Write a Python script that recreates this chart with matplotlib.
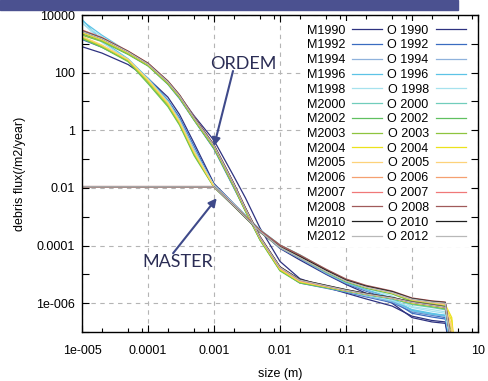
import numpy as np
import matplotlib
matplotlib.use("Agg")
import matplotlib.pyplot as plt
from matplotlib.patches import Rectangle
from matplotlib.ticker import LogLocator, NullFormatter, FixedLocator

# tamaños comunes (m)
size = [1e-5, 2e-5, 5e-5, 1e-4, 2e-4, 3e-4, 5e-4, 1e-3, 2e-3, 3e-3, 5e-3,
        1e-2, 2e-2, 5e-2, 0.1, 0.2, 0.5, 1, 2, 3.2, 4, 5]

years = ["1990", "1992", "1994", "1996", "1998", "2000", "2002", "2003",
         "2004", "2005", "2006", "2007", "2008", "2010", "2012"]
colors = ["#2e3280", "#3a6cc0", "#8fb2dc", "#5cc3e6", "#a6e2ee", "#70cdbb",
          "#60c060", "#8ec43e", "#ece21c", "#fdd27a", "#f5a070", "#f07878",
          "#a05a5a", "#202020", "#b8b8b8"]

# log10 del flujo, MASTER
m1990 = [2.90, 2.68, 2.28, 1.80, 1.15, 0.55, -0.45, -1.85, -2.55, -2.95, -3.50, -4.10, -4.50, -5.00, -5.35, -5.65, -6.00, -6.50, -6.65, -6.70, -8.0, -9.0]
m1992 = [3.15, 2.88, 2.42, 1.80, 1.05, 0.45, -0.55, -1.92, -2.60, -2.98, -3.50, -4.08, -4.45, -4.98, -5.32, -5.58, -5.90, -6.35, -6.48, -6.55, -7.8, -9.0]
m1994 = [3.20, 2.92, 2.44, 1.78, 1.00, 0.38, -0.65, -1.94, -2.60, -3.00, -3.52, -4.08, -4.44, -4.96, -5.30, -5.55, -5.85, -6.28, -6.40, -6.45, -7.7, -9.0]
m1996 = [3.85, 3.10, 2.48, 1.80, 1.02, 0.35, -0.70, -1.92, -2.58, -2.96, -3.46, -4.00, -4.36, -4.92, -5.28, -5.52, -5.82, -6.25, -6.38, -6.42, -7.6, -9.0]
m1998 = [3.75, 3.05, 2.45, 1.76, 0.98, 0.32, -0.72, -1.90, -2.56, -2.95, -3.45, -3.98, -4.34, -4.88, -5.24, -5.48, -5.75, -6.12, -6.22, -6.30, -7.5, -9.0]
m2000 = [3.22, 2.93, 2.43, 1.72, 0.92, 0.28, -0.78, -1.96, -2.60, -2.98, -3.46, -3.98, -4.32, -4.84, -5.18, -5.42, -5.64, -5.90, -6.00, -6.08, -7.4, -9.0]
m2002 = [3.18, 2.88, 2.38, 1.62, 0.82, 0.18, -0.88, -1.98, -2.64, -3.04, -3.54, -4.06, -4.42, -4.92, -5.26, -5.48, -5.68, -5.94, -6.04, -6.10, -7.4, -9.0]
m2003 = [3.20, 2.90, 2.40, 1.66, 0.86, 0.22, -0.84, -1.97, -2.62, -3.02, -3.52, -4.04, -4.40, -4.90, -5.24, -5.46, -5.66, -5.92, -6.02, -6.08, -7.0, -9.0]
m2004 = [3.24, 2.94, 2.44, 1.72, 0.92, 0.27, -0.78, -1.96, -2.62, -3.00, -3.50, -4.03, -4.38, -4.88, -5.22, -5.44, -5.64, -5.88, -5.98, -6.05, -6.5, -9.0]
m2005 = [3.26, 2.96, 2.46, 1.76, 0.96, 0.31, -0.74, -1.95, -2.61, -3.00, -3.50, -4.03, -4.38, -4.88, -5.22, -5.44, -5.64, -5.88, -5.98, -6.05, -6.8, -9.0]
m2006 = [-1.96, -1.96, -1.96, -1.96, -1.96, -1.96, -1.96, -1.96, -2.62, -3.02, -3.52, -4.05, -4.40, -4.88, -5.22, -5.43, -5.62, -5.86, -5.96, -6.02, -7.4, -9.0]
m2007 = [-1.96, -1.96, -1.96, -1.96, -1.96, -1.96, -1.96, -1.96, -2.60, -3.00, -3.48, -4.00, -4.35, -4.84, -5.18, -5.40, -5.60, -5.83, -5.93, -5.98, -7.5, -9.0]
m2008 = [-1.95, -1.95, -1.95, -1.95, -1.95, -1.95, -1.95, -1.95, -2.60, -2.99, -3.47, -3.98, -4.33, -4.82, -5.16, -5.38, -5.58, -5.82, -5.92, -5.96, -7.5, -9.0]
m2010 = [-1.96, -1.96, -1.96, -1.96, -1.96, -1.96, -1.96, -1.96, -2.63, -3.03, -3.53, -4.04, -4.38, -4.86, -5.20, -5.41, -5.60, -5.84, -5.94, -5.98, -7.5, -9.0]
m2012 = [-1.96, -1.96, -1.96, -1.96, -1.96, -1.96, -1.96, -1.96, -2.62, -3.02, -3.52, -4.06, -4.42, -4.90, -5.23, -5.44, -5.63, -5.86, -5.96, -6.00, -7.5, -9.0]

# log10 del flujo, ORDEM
o1990 = [3.35, 3.10, 2.65, 2.25, 1.65, 1.20, 0.50, -0.35, -1.60, -2.35, -3.40, -4.55, -5.15, -5.45, -5.65, -5.85, -6.10, -6.45, -6.60, -6.65, -7.8, -9.0]
o1992 = [3.40, 3.15, 2.68, 2.25, 1.60, 1.10, 0.35, -0.65, -2.00, -2.80, -3.80, -4.85, -5.30, -5.48, -5.62, -5.78, -5.98, -6.30, -6.42, -6.50, -7.7, -9.0]
o1994 = [3.42, 3.17, 2.70, 2.28, 1.63, 1.14, 0.38, -0.60, -1.95, -2.78, -3.78, -4.82, -5.28, -5.46, -5.60, -5.75, -5.95, -6.25, -6.38, -6.45, -7.6, -9.0]
o1996 = [3.80, 3.30, 2.72, 2.30, 1.66, 1.17, 0.40, -0.57, -1.90, -2.75, -3.75, -4.80, -5.25, -5.44, -5.58, -5.72, -5.92, -6.22, -6.35, -6.42, -7.6, -9.0]
o1998 = [3.70, 3.25, 2.71, 2.29, 1.65, 1.16, 0.40, -0.58, -1.92, -2.76, -3.76, -4.82, -5.26, -5.44, -5.58, -5.72, -5.90, -6.15, -6.28, -6.35, -7.5, -9.0]
o2000 = [3.38, 3.14, 2.68, 2.27, 1.64, 1.15, 0.38, -0.60, -1.93, -2.78, -3.78, -4.85, -5.28, -5.45, -5.58, -5.70, -5.85, -6.05, -6.15, -6.23, -7.4, -9.0]
o2002 = [3.30, 3.08, 2.63, 2.23, 1.60, 1.12, 0.35, -0.63, -1.97, -2.82, -3.82, -4.88, -5.30, -5.46, -5.58, -5.70, -5.84, -6.02, -6.12, -6.20, -7.3, -9.0]
o2003 = [3.32, 3.10, 2.65, 2.25, 1.62, 1.14, 0.37, -0.60, -1.95, -2.80, -3.80, -4.86, -5.28, -5.44, -5.57, -5.69, -5.83, -6.00, -6.10, -6.18, -7.0, -9.0]
o2004 = [3.38, 3.14, 2.69, 2.28, 1.66, 1.18, 0.41, -0.56, -1.90, -2.76, -3.76, -4.83, -5.26, -5.43, -5.56, -5.68, -5.82, -5.99, -6.08, -6.15, -6.6, -9.0]
o2005 = [3.42, 3.17, 2.71, 2.30, 1.68, 1.20, 0.43, -0.54, -1.88, -2.74, -3.74, -4.80, -5.24, -5.42, -5.56, -5.68, -5.82, -5.98, -6.08, -6.15, -6.9, -9.0]
o2006 = [3.45, 3.19, 2.73, 2.31, 1.69, 1.21, 0.44, -0.53, -1.87, -2.72, -3.72, -4.78, -5.22, -5.41, -5.55, -5.68, -5.82, -5.97, -6.07, -6.15, -7.3, -9.0]
o2007 = [3.48, 3.22, 2.75, 2.33, 1.71, 1.23, 0.46, -0.51, -1.85, -2.70, -3.70, -4.76, -5.20, -5.40, -5.55, -5.67, -5.81, -5.96, -6.06, -6.13, -7.5, -9.0]
o2008 = [3.47, 3.21, 2.74, 2.33, 1.71, 1.23, 0.46, -0.50, -1.84, -2.69, -3.69, -4.74, -5.19, -5.39, -5.54, -5.67, -5.81, -5.96, -6.06, -6.13, -7.5, -9.0]
o2010 = [3.44, 3.19, 2.73, 2.31, 1.69, 1.21, 0.44, -0.52, -1.86, -2.71, -3.71, -4.74, -5.18, -5.38, -5.53, -5.66, -5.80, -5.96, -6.06, -6.13, -7.5, -9.0]
o2012 = [3.43, 3.18, 2.72, 2.30, 1.68, 1.20, 0.43, -0.53, -1.87, -2.72, -3.72, -4.76, -5.20, -5.40, -5.55, -5.68, -5.82, -5.97, -6.07, -6.14, -7.5, -9.0]

master = [m1990, m1992, m1994, m1996, m1998, m2000, m2002, m2003,
          m2004, m2005, m2006, m2007, m2008, m2010, m2012]
ordem = [o1990, o1992, o1994, o1996, o1998, o2000, o2002, o2003,
         o2004, o2005, o2006, o2007, o2008, o2010, o2012]

x_ticks = [1e-5, 1e-4, 1e-3, 1e-2, 1e-1, 1, 10]
x_labels = ["1e-005", "0.0001", "0.001", "0.01", "0.1", "1", "10"]
y_ticks = [1e-6, 1e-4, 1e-2, 1, 100, 10000]
y_labels = ["1e-006", "0.0001", "0.01", "1", "100", "10000"]

plt.rcParams["font.family"] = ["Liberation Sans", "DejaVu Sans"]
plt.rcParams["font.size"] = 9

fig = plt.figure(figsize=(4.89, 3.81), dpi=100)
ax = fig.add_axes([82 / 489, 1 - 332 / 381, 396 / 489, 317 / 381])

# barra de cabecera
fig.patches.append(Rectangle((0, 1 - 10 / 381), 458 / 489, 10 / 381,
                             transform=fig.transFigure, color="#4b5190", zorder=0))

m_handles = []
o_handles = []
for i, y in enumerate(years):
    h1, = ax.plot(size, np.power(10.0, master[i]), color=colors[i], lw=0.9)
    h2, = ax.plot(size, np.power(10.0, ordem[i]), color=colors[i], lw=0.9)
    m_handles.append(h1)
    o_handles.append(h2)

ax.set_xscale("log")
ax.set_yscale("log")
ax.set_xlim(1e-5, 10)
ax.set_ylim(1e-7, 1e4)

ax.set_xticks(x_ticks)
ax.set_xticklabels(x_labels)
ax.set_yticks(y_ticks)
ax.set_yticklabels(y_labels)
ax.xaxis.set_minor_locator(LogLocator(base=10, subs=[2, 5, 8], numticks=30))
ax.xaxis.set_minor_formatter(NullFormatter())
ax.yaxis.set_minor_locator(FixedLocator([1e-7, 1e-5, 1e-3, 1e-1, 10, 1000]))
ax.yaxis.set_minor_formatter(NullFormatter())
ax.tick_params(which="both", direction="in", top=True, right=True, width=0.8)
ax.tick_params(which="major", length=5)
ax.tick_params(axis="x", which="minor", length=3)
ax.tick_params(axis="y", which="minor", length=5)
ax.tick_params(axis="x", which="major", pad=9)
ax.tick_params(axis="y", which="major", pad=5)

ax.grid(True, which="major", color="#b4b4b4", lw=0.8, ls=(0, (4, 4)))
ax.set_axisbelow(True)
for s in ax.spines.values():
    s.set_linewidth(1.0)

ax.set_xlabel("size (m)", labelpad=8)
ax.set_ylabel("debris flux(/m2/year)", labelpad=7)

# leyenda con fondo blanco que tapa la rejilla
leg = ax.legend(m_handles + o_handles,
                ["M" + y for y in years] + ["O " + y for y in years],
                ncol=2, markerfirst=False, frameon=True, fancybox=False,
                facecolor="white", edgecolor="none", framealpha=1,
                loc="upper right", bbox_to_anchor=(470 / 489, 1 - 21 / 381),
                bbox_transform=fig.transFigure, borderaxespad=0, borderpad=0.3,
                labelspacing=0.22, handlelength=2.4, handletextpad=0.6,
                columnspacing=0.4, fontsize=9)

# anotaciones
arrow_color = "#3f4a8a"
ax.annotate("", xy=(1e-3, 0.28), xytext=(1.94e-3, 114),
            arrowprops=dict(arrowstyle="-|>", color=arrow_color, lw=1.5,
                            mutation_scale=12, shrinkA=0, shrinkB=0))
ax.text(2.75e-3, 200, "ORDEM", ha="center", va="center", fontsize=13,
        color="#2b2d55", family=["Lato", "DejaVu Sans"])
ax.annotate("", xy=(1.1e-3, 4.4e-3), xytext=(2.4e-4, 5.4e-5),
            arrowprops=dict(arrowstyle="-|>", color=arrow_color, lw=1.5,
                            mutation_scale=12, shrinkA=0, shrinkB=0))
ax.text(2.85e-4, 2.65e-5, "MASTER", ha="center", va="center", fontsize=13,
        color="#2b2d55", family=["Lato", "DejaVu Sans"])

fig.savefig("out.png", dpi=100)
